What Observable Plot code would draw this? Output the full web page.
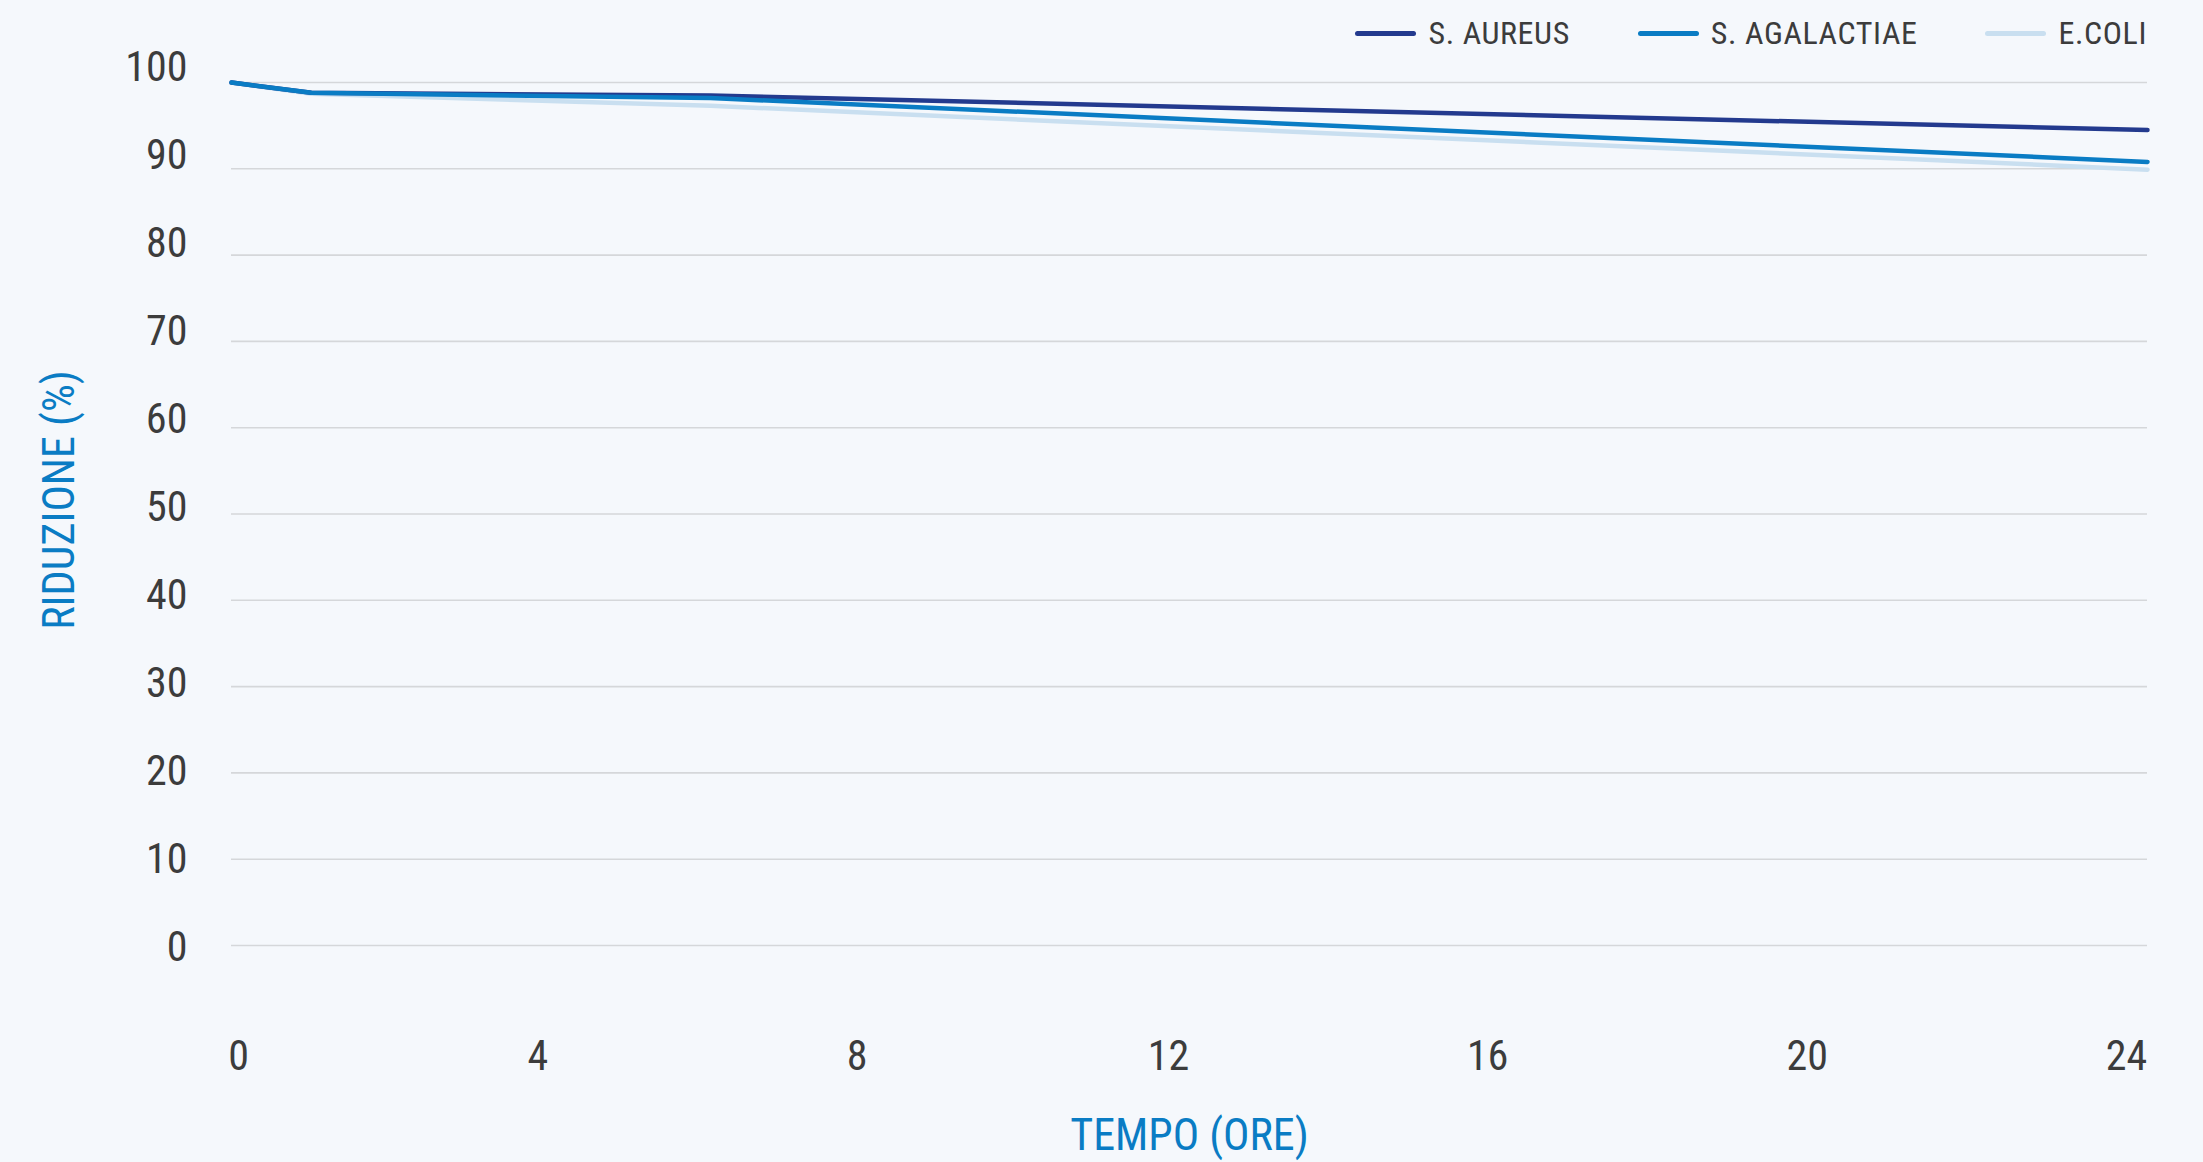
<!DOCTYPE html>
<html>
<head>
<meta charset="utf-8">
<script src="https://cdn.jsdelivr.net/npm/d3@7"></script>
<script src="https://cdn.jsdelivr.net/npm/@observablehq/plot@0.6"></script>
<style>
  html, body { margin: 0; padding: 0; background: #f5f8fc; }
  #wrap { position: relative; width: 2203px; height: 1162px; overflow: hidden; }
  #legend { position: absolute; top: 14px; right: 56px; display: flex; align-items: center;
    font-family: 'Roboto Condensed', 'Liberation Sans Narrow', 'Arial Narrow', Roboto, sans-serif;
    font-size: 32px; color: #3c3c3c; letter-spacing: 0.6px; }
  .item { display: flex; align-items: center; margin-left: 68px; }
  .item:first-child { margin-left: 0; }
  .swatch { width: 61px; height: 5px; border-radius: 3px; margin-right: 12px; }
</style>
</head>
<body>
<div id="wrap"><div id="legend"></div></div>
<script>
// Data
const hours = [0, 1, 6, 24];
const aureus = [100, 98.8, 98.5, 94.5];
const agalactiae = [100, 98.8, 98.2, 90.8];
const ecoli = [100, 98.7, 97.3, 89.9];
const seriesNames = ["S. AUREUS", "S. AGALACTIAE", "E.COLI"];
const seriesColors = ["#233a8e", "#0a7cc4", "#c9dff0"];
const xTicks = [0, 4, 8, 12, 16, 20, 24];
const yTicks = [0, 10, 20, 30, 40, 50, 60, 70, 80, 90, 100];
const xTitle = "TEMPO (ORE)";
const yTitle = "RIDUZIONE (%)";

const FONT = "'Roboto Condensed', 'Liberation Sans Narrow', 'Arial Narrow', Roboto, sans-serif";

const toRows = (vals, name) => hours.map((h, i) => ({hour: h, value: vals[i], series: name}));
const rowsA = toRows(aureus, seriesNames[0]);
const rowsB = toRows(agalactiae, seriesNames[1]);
const rowsC = toRows(ecoli, seriesNames[2]);

const lineOpts = (color) => ({x: "hour", y: "value", stroke: color, strokeWidth: 4.5,
  strokeLinecap: "round", strokeLinejoin: "round"});

const tickStyle = {tickSize: 0, fontSize: 42, fill: "#3c3c3c", label: null};

// tick labels sit slightly off their gridlines in the reference
const yAxes = yTicks.map(t => Plot.axisY([t], {...tickStyle, tickPadding: 44, dy: 2 - 0.17 * t}));
const xAxes = [
  Plot.axisX(xTicks.filter(t => t === 0), {...tickStyle, tickPadding: 95, dx: 7}),
  Plot.axisX(xTicks.filter(t => t === 4 || t === 8), {...tickStyle, tickPadding: 95, dx: -13}),
  Plot.axisX(xTicks.filter(t => t >= 12), {...tickStyle, tickPadding: 95, dx: -21})
];

const chart = Plot.plot({
  width: 2203,
  height: 1162,
  marginLeft: 231,
  marginRight: 56,
  marginTop: 82,
  marginBottom: 217,
  style: {background: "transparent", fontFamily: FONT, color: "#3c3c3c", overflow: "visible"},
  x: {domain: [0, 24], label: null},
  y: {domain: [0, 100], label: null},
  marks: [
    Plot.gridY(yTicks, {stroke: "#d5d7da", strokeOpacity: 1, strokeWidth: 1.6}),
    ...yAxes,
    ...xAxes,
    Plot.line(rowsC, lineOpts(seriesColors[2])),
    Plot.line(rowsA, lineOpts(seriesColors[0])),
    Plot.line(rowsB, lineOpts(seriesColors[1])),
    Plot.text([xTitle], {frameAnchor: "bottom", dy: 190, lineAnchor: "middle", textAnchor: "middle",
      fontSize: 44, fill: "#0a7cc4", fontFamily: FONT, letterSpacing: 0.5}),
    Plot.text([yTitle], {frameAnchor: "left", dx: -172, dy: -14, rotate: -90, lineAnchor: "middle",
      textAnchor: "middle", fontSize: 44, fill: "#0a7cc4", fontFamily: FONT})
  ]
});
document.getElementById("wrap").prepend(chart);

const legend = document.getElementById("legend");
seriesNames.forEach((n, i) => {
  const it = document.createElement("div");
  it.className = "item";
  const sw = document.createElement("div");
  sw.className = "swatch";
  sw.style.background = seriesColors[i];
  const lb = document.createElement("span");
  lb.textContent = n;
  it.appendChild(sw); it.appendChild(lb);
  legend.appendChild(it);
});
</script>
</body>
</html>
